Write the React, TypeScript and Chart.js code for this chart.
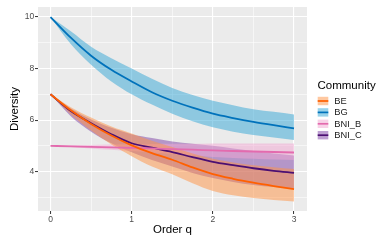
import React, { useEffect, useRef } from "react";
import { Chart, registerables } from "chart.js";

Chart.register(...registerables);

// ---- data ----
const orderQ = [0, 0.25, 0.5, 0.75, 1, 1.25, 1.5, 1.75, 2, 2.25, 2.5, 2.75, 3];
const communities = ["BE", "BG", "BNI_B", "BNI_C"];

const beEst = [7, 6.38, 5.85, 5.4, 5.02, 4.72, 4.46, 4.16, 3.9, 3.72, 3.57, 3.44, 3.32];
const beLo = [7, 6.22, 5.6, 5.05, 4.6, 4.2, 3.9, 3.55, 3.25, 3.08, 2.97, 2.9, 2.84];
const beHi = [7, 6.5, 6.1, 5.75, 5.48, 5.2, 4.95, 4.7, 4.5, 4.35, 4.25, 4.17, 4.1];

const bgEst = [10, 9.2, 8.5, 7.95, 7.5, 7.08, 6.75, 6.48, 6.25, 6.08, 5.93, 5.8, 5.68];
const bgLo = [10, 8.95, 8.15, 7.5, 7.0, 6.6, 6.25, 5.95, 5.72, 5.55, 5.42, 5.32, 5.23];
const bgHi = [10, 9.45, 8.85, 8.4, 8.0, 7.6, 7.25, 6.97, 6.75, 6.58, 6.42, 6.32, 6.22];

const bnibEst = [5, 4.98, 4.96, 4.94, 4.92, 4.9, 4.87, 4.85, 4.82, 4.8, 4.78, 4.76, 4.74];
const bnibLo = [5, 4.95, 4.9, 4.85, 4.8, 4.74, 4.68, 4.62, 4.57, 4.53, 4.5, 4.47, 4.45];
const bnibHi = [5, 5.02, 5.03, 5.05, 5.06, 5.07, 5.08, 5.08, 5.09, 5.09, 5.09, 5.09, 5.09];

const bnicEst = [7, 6.35, 5.88, 5.45, 5.1, 4.93, 4.76, 4.56, 4.38, 4.25, 4.13, 4.03, 3.95];
const bnicLo = [7, 6.15, 5.55, 5.1, 4.75, 4.45, 4.2, 3.95, 3.75, 3.6, 3.48, 3.4, 3.35];
const bnicHi = [7, 6.45, 6.02, 5.7, 5.45, 5.3, 5.17, 5.08, 5.0, 4.9, 4.8, 4.7, 4.62];

const xMajorTicks = [0, 1, 2, 3];
const xMinorTicks = [0.5, 1.5, 2.5];
const yMajorTicks = [4, 6, 8, 10];
const yMinorTicks = [3, 5, 7, 9];

const lineColors = ["#FF6000", "#0072BB", "#E36BAE", "#4B0F72"];
const bandColors = [
  "rgba(255,145,65,0.5)",
  "rgba(49,165,213,0.5)",
  "rgba(241,165,209,0.5)",
  "rgba(125,65,165,0.5)",
];

const seriesEst = [beEst, bgEst, bnibEst, bnicEst];
const seriesLo = [beLo, bgLo, bnibLo, bnicLo];
const seriesHi = [beHi, bgHi, bnibHi, bnicHi];

const FONT = "'Liberation Sans', Arial, sans-serif";

const pts = (ys: number[]) => orderQ.map((x, i) => ({ x, y: ys[i] }));

const bgPlugin = {
  id: "panelBg",
  beforeDraw(chart: any) {
    const { ctx, chartArea: a } = chart;
    ctx.save();
    ctx.fillStyle = "#EBEBEB";
    ctx.fillRect(a.left, a.top, a.right - a.left, a.bottom - a.top);
    ctx.restore();
  },
};

const legendPlugin = {
  id: "ggLegend",
  afterDraw(chart: any) {
    const ctx = chart.ctx;
    ctx.save();
    ctx.fillStyle = "#000";
    ctx.font = `11.5px ${FONT}`;
    ctx.textBaseline = "alphabetic";
    ctx.textAlign = "left";
    ctx.fillText("Community", 317.5, 88.5);
    const x0 = 317.7;
    const w = 10.6;
    const h = 8.4;
    communities.forEach((name, i) => {
      const cy = 101 + i * 11.4;
      ctx.fillStyle = bandColors[i];
      ctx.fillRect(x0, cy - h / 2, w, h);
      ctx.strokeStyle = lineColors[i];
      ctx.lineWidth = 1.7;
      ctx.beginPath();
      ctx.moveTo(x0, cy);
      ctx.lineTo(x0 + w, cy);
      ctx.stroke();
      ctx.fillStyle = "#1A1A1A";
      ctx.font = `9.3px ${FONT}`;
      ctx.textBaseline = "middle";
      ctx.fillText(name, 334.3, cy + 0.3);
    });
    ctx.restore();
  },
};

export default function App() {
  const ref = useRef<HTMLCanvasElement>(null);

  useEffect(() => {
    if (!ref.current) return;
    const datasets: any[] = [];
    communities.forEach((name, i) => {
      const loIdx = datasets.length;
      datasets.push({
        label: name + "_lo",
        data: pts(seriesLo[i]),
        borderWidth: 0,
        pointRadius: 0,
        fill: false,
        cubicInterpolationMode: "monotone",
        borderColor: "rgba(0,0,0,0)",
      });
      datasets.push({
        label: name + "_hi",
        data: pts(seriesHi[i]),
        borderWidth: 0,
        pointRadius: 0,
        fill: { target: loIdx },
        backgroundColor: bandColors[i],
        cubicInterpolationMode: "monotone",
        borderColor: "rgba(0,0,0,0)",
      });
    });
    communities.forEach((name, i) => {
      datasets.push({
        label: name,
        data: pts(seriesEst[i]),
        borderColor: lineColors[i],
        borderWidth: 1.8,
        pointRadius: 0,
        fill: false,
        cubicInterpolationMode: "monotone",
      });
    });

    const isIn = (arr: number[], v: number) => arr.some((t) => Math.abs(t - v) < 1e-6);

    const chart = new Chart(ref.current, {
      type: "line",
      data: { datasets },
      plugins: [bgPlugin, legendPlugin],
      options: {
        animation: false,
        responsive: false,
        devicePixelRatio: 1,
        layout: { padding: { top: 7, right: 82, left: 0, bottom: 0 } },
        plugins: {
          legend: { display: false },
          tooltip: { enabled: false },
          filler: { drawTime: "beforeDatasetsDraw" } as any,
        },
        scales: {
          x: {
            type: "linear",
            min: -0.154,
            max: 3.16,
            afterBuildTicks: (s: any) => {
              s.ticks = [...xMajorTicks, ...xMinorTicks].sort((a, b) => a - b).map((v) => ({ value: v }));
            },
            afterFit: (s: any) => {
              s.height = 32;
            },
            border: { display: false },
            grid: {
              color: "#FFFFFF",
              lineWidth: (c: any) => (isIn(xMajorTicks, c.tick?.value) ? 1.1 : 0.55),
              tickLength: 3,
              tickColor: (c: any) => (isIn(xMajorTicks, c.tick?.value) ? "#333333" : "rgba(0,0,0,0)"),
              tickWidth: 1,
            },
            ticks: {
              autoSkip: false,
              maxRotation: 0,
              padding: 0.5,
              color: "#4D4D4D",
              font: { family: FONT, size: 8.5 },
              callback: (v: any) => (isIn(xMajorTicks, Number(v)) ? String(v) : ""),
            },
            title: {
              display: true,
              text: "Order q",
              color: "#000",
              font: { family: FONT, size: 11.5 },
              padding: { top: 0, bottom: 6.7 },
            },
          },
          y: {
            type: "linear",
            min: 2.47,
            max: 10.39,
            afterBuildTicks: (s: any) => {
              s.ticks = [...yMinorTicks, ...yMajorTicks].sort((a, b) => a - b).map((v) => ({ value: v }));
            },
            afterFit: (s: any) => {
              s.width = 38;
            },
            border: { display: false },
            grid: {
              color: "#FFFFFF",
              lineWidth: (c: any) => (isIn(yMajorTicks, c.tick?.value) ? 1.1 : 0.55),
              tickLength: 3,
              tickColor: (c: any) => (isIn(yMajorTicks, c.tick?.value) ? "#333333" : "rgba(0,0,0,0)"),
              tickWidth: 1,
            },
            ticks: {
              autoSkip: false,
              padding: 0.7,
              color: "#4D4D4D",
              font: { family: FONT, size: 8.5 },
              callback: (v: any) => (isIn(yMajorTicks, Number(v)) ? String(v) : ""),
            },
            title: {
              display: true,
              text: "Diversity",
              color: "#000",
              font: { family: FONT, size: 11.5 },
              padding: { top: 8.1, bottom: 0 },
            },
          },
        },
      },
    });
    return () => chart.destroy();
  }, []);

  return (
    <div style={{ position: "absolute", left: 0, top: 0, width: 389, height: 243, background: "#fff" }}>
      <canvas ref={ref} width={389} height={243} style={{ display: "block" }} />
    </div>
  );
}
